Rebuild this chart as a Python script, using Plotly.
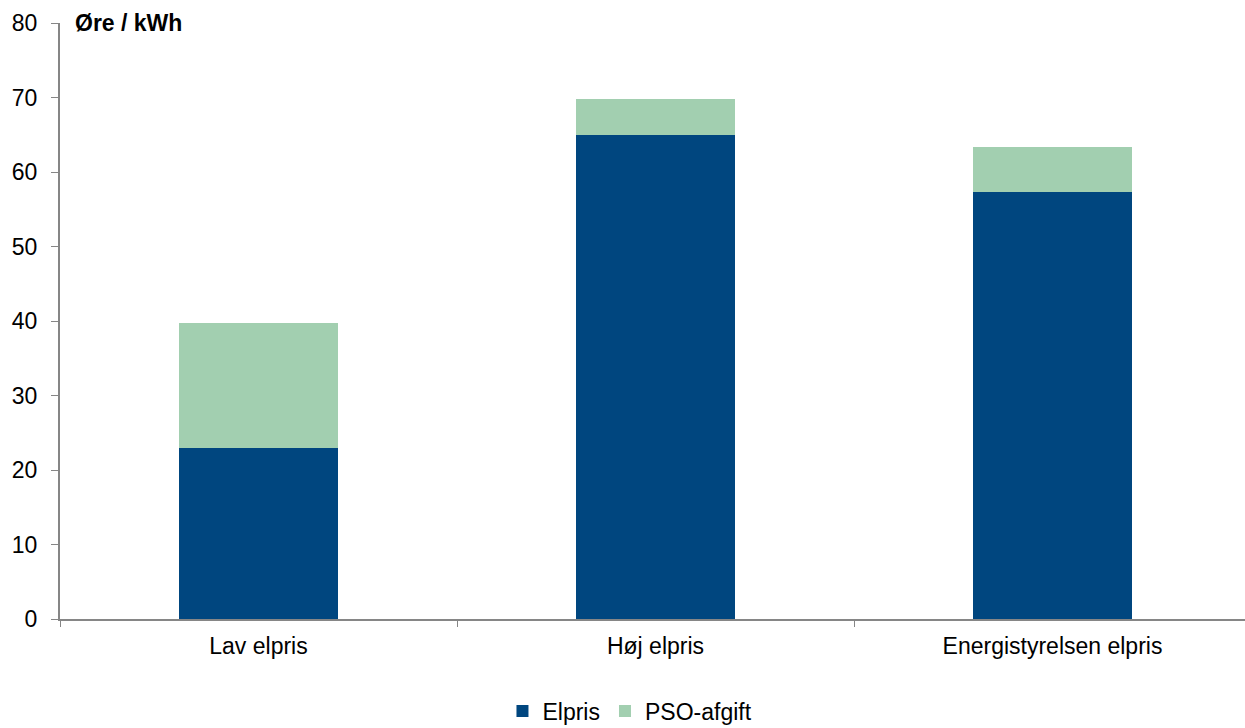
import plotly.graph_objects as go

categories = ["Lav elpris", "Høj elpris", "Energistyrelsen elpris"]
elpris = [23.0, 65.0, 57.3]
pso_afgift = [16.7, 4.8, 6.1]
y_ticks = [0, 10, 20, 30, 40, 50, 60, 70, 80]

FONT = "Liberation Sans, Arial, sans-serif"
AXIS_COLOR = "#868686"
FS = 23

fig = go.Figure()
fig.add_trace(go.Bar(x=categories, y=elpris, name="Elpris",
                     marker=dict(color="#00467F", line=dict(width=0)), width=0.4))
fig.add_trace(go.Bar(x=categories, y=pso_afgift, name="PSO-afgift",
                     marker=dict(color="#A2CFB0", line=dict(width=0)), width=0.4))

fig.update_layout(
    barmode="stack",
    width=1245, height=728,
    margin=dict(l=60, r=0, t=23, b=109),
    paper_bgcolor="white", plot_bgcolor="white",
    font=dict(family=FONT, size=FS, color="black"),
    showlegend=True,
    legend=dict(orientation="h", x=0.506, xanchor="center", xref="container",
                y=1 - 711 / 728, yanchor="middle", yref="container",
                font=dict(size=FS), tracegroupgap=0, itemwidth=30,
                traceorder="normal"),
    xaxis=dict(range=[-0.5, -0.5 + 1185 / 397], showline=True, linecolor=AXIS_COLOR,
               linewidth=2, ticks="outside", tickson="boundaries", ticklen=6,
               tickcolor=AXIS_COLOR, tickwidth=1, showgrid=False, zeroline=False,
               ticklabelstandoff=5, tickfont=dict(size=FS)),
    yaxis=dict(range=[0, 80], tickvals=y_ticks, showline=True, linecolor=AXIS_COLOR,
               linewidth=2, ticks="outside", ticklen=7, tickcolor=AXIS_COLOR,
               tickwidth=1, showgrid=False, zeroline=False, ticklabelstandoff=9,
               tickfont=dict(size=FS)),
    annotations=[dict(text="<b>Øre / kWh</b>", xref="paper", yref="paper",
                      x=0.011, y=1.0, xanchor="left", yanchor="middle",
                      showarrow=False, font=dict(size=FS, color="black"))],
)

fig.write_html("out.html")
